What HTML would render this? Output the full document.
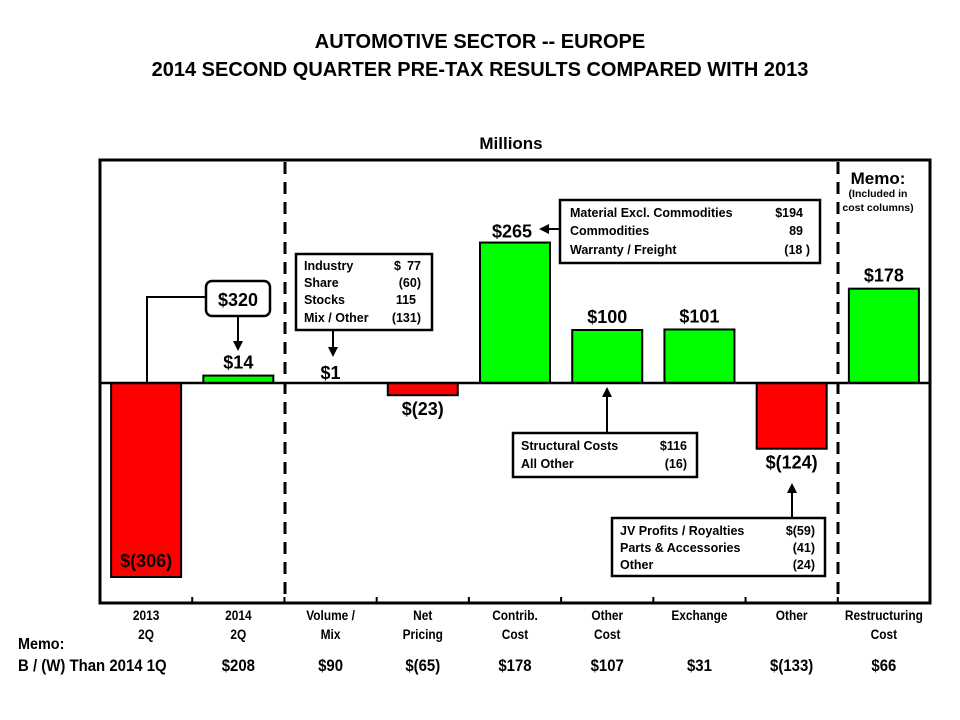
<!DOCTYPE html>
<html><head><meta charset="utf-8"><style>
body{margin:0;background:#fff;}
svg{display:block;font-family:"Liberation Sans",Arial,sans-serif;font-weight:bold;}
</style></head><body>
<svg width="960" height="720" viewBox="0 0 960 720">
<defs><marker id="ah" markerWidth="10" markerHeight="10" refX="7" refY="5" orient="auto" markerUnits="userSpaceOnUse" viewBox="0 0 10 10"><path d="M0,0 L10,5 L0,10 z" fill="#000"/></marker></defs>
<text x="480" y="48" text-anchor="middle" font-size="20">AUTOMOTIVE SECTOR -- EUROPE</text>
<text x="480" y="76" text-anchor="middle" font-size="20">2014 SECOND QUARTER PRE-TAX RESULTS COMPARED WITH 2013</text>
<text x="511" y="149" text-anchor="middle" font-size="17">Millions</text>
<rect x="100" y="160" width="830" height="443" fill="none" stroke="#000" stroke-width="3"/>
<g id="bars"></g>
<line x1="100" y1="383" x2="930" y2="383" stroke="#000" stroke-width="2.5"/>
<line x1="285" y1="162" x2="285" y2="601" stroke="#000" stroke-width="3" stroke-dasharray="12,8"/>
<line x1="838" y1="162" x2="838" y2="601" stroke="#000" stroke-width="3" stroke-dasharray="12,8"/>
<g id="labels" font-size="18"></g>
<g id="cats" font-size="14"></g>

<polyline points="147,383 147,297 206,297" fill="none" stroke="#000" stroke-width="2"/>
<rect x="206" y="281" width="64" height="35" rx="6" fill="#fff" stroke="#000" stroke-width="2.5"/>
<text x="238" y="306" text-anchor="middle" font-size="18">$320</text>
<line x1="238" y1="316" x2="238" y2="348" stroke="#000" stroke-width="2" marker-end="url(#ah)"/>

<rect x="296" y="254" width="136" height="76" fill="#fff" stroke="#000" stroke-width="2.5"/>
<g font-size="12.5">
<text x="304" y="270">Industry</text><text x="394" y="270">$</text><text x="421" y="270" text-anchor="end">77</text>
<text x="304" y="287">Share</text><text x="421" y="287" text-anchor="end">(60)</text>
<text x="304" y="304">Stocks</text><text x="416" y="304" text-anchor="end">115</text>
<text x="304" y="322">Mix / Other</text><text x="421" y="322" text-anchor="end">(131)</text>
</g>
<line x1="333" y1="330" x2="333" y2="354" stroke="#000" stroke-width="2" marker-end="url(#ah)"/>

<rect x="560" y="200" width="260" height="63" fill="#fff" stroke="#000" stroke-width="2.5"/>
<g font-size="12.5">
<text x="570" y="217">Material Excl. Commodities</text><text x="803" y="217" text-anchor="end">$194</text>
<text x="570" y="235">Commodities</text><text x="803" y="235" text-anchor="end">89</text>
<text x="570" y="254">Warranty / Freight</text><text x="810" y="254" text-anchor="end">(18 )</text>
</g>
<line x1="560" y1="229" x2="542" y2="229" stroke="#000" stroke-width="2" marker-end="url(#ah)"/>

<rect x="513" y="433" width="184" height="44" fill="#fff" stroke="#000" stroke-width="2.5"/>
<g font-size="12.5">
<text x="521" y="450">Structural Costs</text><text x="687" y="450" text-anchor="end">$116</text>
<text x="521" y="468">All Other</text><text x="687" y="468" text-anchor="end">(16)</text>
</g>
<line x1="607" y1="433" x2="607" y2="390" stroke="#000" stroke-width="2" marker-end="url(#ah)"/>

<rect x="612" y="518" width="213" height="58" fill="#fff" stroke="#000" stroke-width="2.5"/>
<g font-size="12.5">
<text x="620" y="535">JV Profits / Royalties</text><text x="815" y="535" text-anchor="end">$(59)</text>
<text x="620" y="552">Parts &amp; Accessories</text><text x="815" y="552" text-anchor="end">(41)</text>
<text x="620" y="569">Other</text><text x="815" y="569" text-anchor="end">(24)</text>
</g>
<line x1="792" y1="518" x2="792" y2="486" stroke="#000" stroke-width="2" marker-end="url(#ah)"/>

<text x="878" y="184" text-anchor="middle" font-size="17">Memo:</text>
<text x="878" y="197" text-anchor="middle" font-size="10.5">(Included in</text>
<text x="878" y="211" text-anchor="middle" font-size="10.5">cost columns)</text>

<text x="18" y="649" font-size="16" transform="translate(18 0) scale(0.9 1) translate(-18 0)">Memo:</text>
<text x="18" y="671" font-size="17" transform="translate(18 0) scale(0.88 1) translate(-18 0)">B / (W) Than 2014 1Q</text>
<g id="memo" font-size="17"></g>
</svg>
<script>
const categories = [["2013","2Q"],["2014","2Q"],["Volume /","Mix"],["Net","Pricing"],["Contrib.","Cost"],["Other","Cost"],["Exchange",""],["Other",""],["Restructuring","Cost"]];
const values = [-306, 14, 1, -23, 265, 100, 101, -124, 178];
const valueLabels = ["$(306)","$14","$1","$(23)","$265","$100","$101","$(124)","$178"];
const memoValues = ["", "$208","$90","$(65)","$178","$107","$31","$(133)","$66"];
const NS = "http://www.w3.org/2000/svg";
const x0 = 100, colW = 830/9, zeroY = 383, scale = 0.53, scale0 = 194/306, barW = 70;
function xc(i){ return x0 + colW*(i+0.5); }
function yv(v,i){ return zeroY - v*(i===0?scale0:scale); }
const bars = document.getElementById('bars');
const labels = document.getElementById('labels');
const cats = document.getElementById('cats');
const memo = document.getElementById('memo');
function mk(tag, attrs){ const e=document.createElementNS(NS,tag); for(const k in attrs) e.setAttribute(k,attrs[k]); return e; }
function sq(x, s){ return 'translate(' + x + ' 0) scale(' + s + ' 1) translate(' + (-x) + ' 0)'; }
values.forEach((v,i)=>{
  const y = yv(v,i);
  const h = Math.abs(zeroY - y);
  if (Math.abs(v) >= 2) {
    const r = mk('rect',{x:xc(i)-barW/2, y:Math.min(y,zeroY), width:barW, height:h, fill: v>=0?'#00ff00':'#ff0000', stroke:'#000','stroke-width':2});
    
    
    bars.appendChild(r);
  }
  let ly;
  if (i===0) ly = y - 10;
  else if (i===2) ly = zeroY - 4;
  else if (i===4) ly = y - 5;
  else ly = v>=0 ? y - 7 : y + 20;
  let lx = i===4 ? xc(i)-3 : xc(i);
  const t = mk('text',{x:lx, y:ly, 'text-anchor':'middle'});
  t.textContent = valueLabels[i];
  
  
  labels.appendChild(t);
  const c1 = mk('text',{x:xc(i), y:620, 'text-anchor':'middle', transform: sq(xc(i),0.85)});
  c1.textContent = categories[i][0];
  
  
  cats.appendChild(c1);
  if (categories[i][1]) {
    const c2 = mk('text',{x:xc(i), y:639, 'text-anchor':'middle', transform: sq(xc(i),0.85)});
    c2.textContent = categories[i][1];
    
    
    cats.appendChild(c2);
  }
  if (memoValues[i]) {
    const m = mk('text',{x:xc(i), y:671, 'text-anchor':'middle', transform: sq(xc(i),0.88)});
    m.textContent = memoValues[i];
    
    
    memo.appendChild(m);
  }
  if (i>0) {
    const tk = mk('line',{x1:x0+colW*i, y1:603, x2:x0+colW*i, y2:597, stroke:'#000','stroke-width':2});
    
    
    bars.appendChild(tk);
  }
});
</script>
</body></html>
